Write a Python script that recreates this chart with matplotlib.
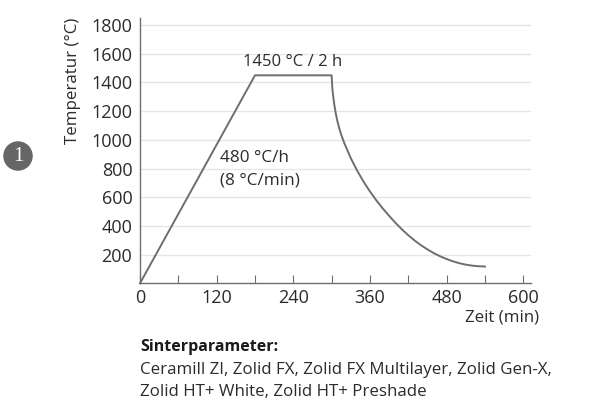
import matplotlib
matplotlib.use("Agg")
import matplotlib.pyplot as plt
from matplotlib.patches import Ellipse

time_min = [0, 180, 300, 301, 302, 304, 306, 309, 312, 315, 320, 330, 340, 350, 360, 370, 380, 390, 400, 410,
            420, 430, 440, 450, 460, 470, 480, 490, 500, 510, 520, 530, 540]
temp_c = [0, 1450, 1450, 1365, 1320, 1250, 1195, 1130, 1080, 1035, 975, 872, 785, 708, 640, 578, 522, 470, 421, 376,
          335, 298, 265, 236, 210, 188, 169, 153, 140, 130, 123, 119, 117]
x_ticks = [0, 60, 120, 180, 240, 300, 360, 420, 480, 540, 600]
x_labels = ["0", "", "120", "", "240", "", "360", "", "480", "", "600"]
y_ticks = [200, 400, 600, 800, 1000, 1200, 1400, 1600, 1800]

W, H = 605, 405
plt.rcParams["font.family"] = ["Open Sans", "DejaVu Sans"]
DARK = "#2b2b2b"
GREY = "#6e6e6e"
fig = plt.figure(figsize=(W / 100, H / 100), dpi=100)
L, R, T, B = 140, 531, 18, 283.3
ax = fig.add_axes([L / W, 1 - B / H, (R - L) / W, (B - T) / H])
ax.set_xlim(0, (R - L) / (383.3 / 600))
ax.set_ylim(0, (B - T) / (229.5 / 1600))
for s in ("top", "right"):
    ax.spines[s].set_visible(False)
for s in ("left", "bottom"):
    ax.spines[s].set_color(GREY)
    ax.spines[s].set_linewidth(1.0)
ax.set_yticks(y_ticks)
ax.set_xticks(x_ticks)
ax.set_xticklabels(x_labels)
ax.tick_params(axis="y", length=0, pad=5.5, labelsize=13, labelcolor=DARK)
ax.tick_params(axis="x", direction="in", length=5.5, width=0.8, color=GREY, pad=4, labelsize=13, labelcolor=DARK)
ax.grid(axis="y", color="#e8e6e3", lw=1.0)
ax.set_axisbelow(True)
ax.plot(time_min, temp_c, color=GREY, lw=1.4, solid_joinstyle="round", clip_on=False)

def ftext(px, py, s, **kw):
    kw.setdefault("color", DARK)
    fig.text(px / W, 1 - py / H, s, **kw)

ftext(73, 81, "Temperatur (°C)", rotation=90, ha="center", va="center", fontsize=12.2)
ftext(293, 62, "1450 °C / 2 h", ha="center", va="center", fontsize=12)
ftext(220, 158, "480 °C/h", ha="left", va="center", fontsize=12.3)
ftext(220, 181, "(8 °C/min)", ha="left", va="center", fontsize=12.3)
ftext(539, 318, "Zeit (min)", ha="right", va="center", fontsize=12.2)
ftext(140, 347, "Sinterparameter:", ha="left", va="center", fontsize=11.5, fontweight="bold", color="#1a1a1a")
ftext(140, 370, "Ceramill ZI, Zolid FX, Zolid FX Multilayer, Zolid Gen-X,", ha="left", va="center", fontsize=12.2)
ftext(140, 392, "Zolid HT+ White, Zolid HT+ Preshade", ha="left", va="center", fontsize=12.2)

fig.add_artist(Ellipse((18 / W, 1 - 156 / H), 29.5 / W, 29.5 / H, transform=fig.transFigure, color="#666666", lw=0))
fig.text(18 / W, 1 - 156.5 / H, "1", color="white", ha="center", va="center", fontsize=15, family="Liberation Serif")

fig.savefig("out.png", dpi=100)
